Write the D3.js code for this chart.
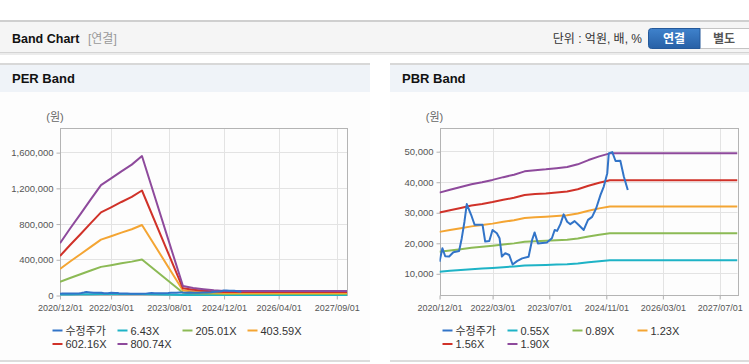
<!DOCTYPE html>
<html>
<head>
<meta charset="utf-8">
<script src="https://cdn.jsdelivr.net/npm/d3@7"></script>
<style>
  body { margin: 0; background: #fff; }
  svg { display: block; font-family: "Liberation Sans", Arial, "Noto Sans CJK KR", sans-serif; }
</style>
</head>
<body>
<svg id="band" width="749" height="364"></svg>
<script>
// ---- data ----
let priceDates = ['2020-12-01', '2020-12-26', '2021-01-19', '2021-02-22', '2021-03-30', '2021-05-18', '2021-06-10', '2021-07-03', '2021-07-23', '2021-08-30',
	'2021-09-28', '2021-12-05', '2021-12-28', '2022-02-01', '2022-03-01', '2022-04-07', '2022-04-30', '2022-05-20', '2022-06-18', '2022-07-22',
	'2022-08-20', '2022-09-27', '2022-11-10', '2023-01-04', '2023-02-03', '2023-02-25', '2023-03-25', '2023-06-10', '2023-07-23', '2023-08-16',
	'2023-09-06', '2023-10-04', '2023-11-01', '2023-12-01', '2023-12-28', '2024-02-03', '2024-03-09', '2024-04-21', '2024-05-28', '2024-07-02',
	'2024-08-06', '2024-09-12', '2024-10-10', '2024-11-09', '2024-11-22', '2024-12-22', '2025-01-19', '2025-03-01', '2025-03-31', '2025-05-04']
let priceValues = [13800, 18200, 15600, 15500, 16900, 17300, 21500, 26900, 32700, 29100,
	25900, 25900, 20400, 20600, 24200, 23100, 21500, 15500, 16600, 16000,
	12900, 14000, 14900, 15400, 20900, 23400, 19800, 20100, 21500, 24200,
	23900, 26100, 29300, 26900, 26100, 27100, 25800, 24200, 27500, 28500,
	31300, 35700, 38400, 42800, 49300, 49700, 46800, 46900, 41700, 37300]

let perDates = ['2020-12-01', '2021-03-01', '2021-06-01', '2021-09-01', '2021-12-01', '2022-03-01', '2022-06-01', '2022-09-01', '2022-12-01',
	'2023-12-01', '2024-03-01', '2024-06-01', '2024-09-01', '2024-12-01', '2027-12-01']
let perLabels = ['6.43X', '205.01X', '403.59X', '602.16X', '800.74X']
let per643 = [4660, 5980, 7270, 8590, 9880, 10480, 11120, 11720, 12490, 800, 630, 520, 430, 360, 360]
let per205 = [148490, 190740, 231700, 273950, 314910, 334110, 354600, 373800, 398380, 25600, 19970, 16640, 13570, 11520, 11520]
let per403 = [292330, 375500, 456140, 539300, 619950, 657750, 698070, 735870, 784260, 50400, 39310, 32760, 26710, 22680, 22680]
let per602 = [436170, 560250, 680570, 804650, 924970, 981370, 1041530, 1097930, 1170130, 75200, 58660, 48880, 39860, 33840, 33840]
let per800 = [580000, 745000, 905000, 1070000, 1230000, 1305000, 1385000, 1460000, 1556000, 100000, 78000, 65000, 53000, 45000, 45000]
let perTicks = ['2020-12-01', '2022-03-01', '2023-08-01', '2024-12-01', '2026-04-01', '2027-09-01']
let perYTicks = [0, 400000, 800000, 1200000, 1600000]

let pbrDates = ['2020-12-01', '2021-03-01', '2021-06-01', '2021-09-01', '2021-12-01', '2022-03-01', '2022-06-01', '2022-09-01', '2022-12-01',
	'2023-03-01', '2023-06-01', '2023-09-01', '2023-12-01', '2024-03-01', '2024-06-01', '2024-09-01', '2024-12-01', '2027-12-01']
let pbrLabels = ['0.55X', '0.89X', '1.23X', '1.56X', '1.90X']
let pbr055 = [10550, 10810, 11070, 11350, 11540, 11750, 12010, 12250, 12560, 12680, 12750, 12850, 12970, 13230, 13630, 13980, 14270, 14270]
let pbr089 = [17060, 17490, 17920, 18360, 18670, 19020, 19440, 19810, 20330, 20520, 20630, 20800, 20980, 21410, 22060, 22620, 23090, 23090]
let pbr123 = [23580, 24180, 24760, 25380, 25800, 26280, 26870, 27390, 28100, 28360, 28520, 28740, 29000, 29590, 30490, 31270, 31920, 31920]
let pbr156 = [29910, 30670, 31410, 32190, 32720, 33340, 34080, 34730, 35640, 35960, 36170, 36460, 36790, 37520, 38670, 39660, 40480, 40480]
let pbr190 = [36430, 37350, 38250, 39200, 39850, 40600, 41500, 42300, 43400, 43800, 44050, 44400, 44800, 45700, 47100, 48300, 49300, 49300]
let pbrTicks = ['2020-12-01', '2022-03-01', '2023-07-01', '2024-11-01', '2026-03-01', '2027-07-01']
let pbrYTicks = [10000, 20000, 30000, 40000, 50000]

let colors = ['#3274c8', '#1eb3c6', '#8cba55', '#f4a533', '#d03229', '#8e4a9c'] // price, then bands low -> high
// ---------------------------------------

let parse = d3.timeParse('%Y-%m-%d')
let svg = d3.select('#band')

// header bar
let bar = svg.append('g')
bar.append('rect').attr('x', 0).attr('y', 20).attr('width', 749).attr('height', 33).attr('fill', '#f5f5f5')
bar.append('rect').attr('x', 0).attr('y', 20).attr('width', 749).attr('height', 2).attr('fill', '#cfcfcf')
bar.append('rect').attr('x', 0).attr('y', 52).attr('width', 749).attr('height', 1).attr('fill', '#d4d4d4')
bar.append('rect').attr('x', 0).attr('y', 53).attr('width', 749).attr('height', 2).attr('fill', '#ececec')
bar.append('text').attr('x', 12).attr('y', 43).style('font-size', '12.5px').style('font-weight', 'bold').attr('fill', '#111').text('Band Chart')
bar.append('text').attr('x', 88).attr('y', 43).style('font-size', '12px').attr('fill', '#999').text('[연결]')
bar.append('text').attr('x', 642).attr('y', 43).attr('text-anchor', 'end').style('font-size', '12px').attr('fill', '#333').text('단위 : 억원, 배, %')

let defs = svg.append('defs')
let grad = defs.append('linearGradient').attr('id', 'btn').attr('x1', 0).attr('y1', 0).attr('x2', 0).attr('y2', 1)
grad.append('stop').attr('offset', 0).attr('stop-color', '#3f82cc')
grad.append('stop').attr('offset', 1).attr('stop-color', '#2760a6')
bar.append('rect').attr('x', 699).attr('y', 28.5).attr('width', 52).attr('height', 20).attr('fill', '#fff').attr('stroke', '#c4c4c4')
bar.append('path').attr('d', 'M651.5,28.5 H700 V48.5 H651.5 Q648.5,48.5 648.5,45.5 V31.5 Q648.5,28.5 651.5,28.5 Z')
	.attr('fill', 'url(#btn)').attr('stroke', '#25599a')
bar.append('text').attr('x', 674).attr('y', 43).attr('text-anchor', 'middle').style('font-size', '12px').style('font-weight', 'bold').attr('fill', '#fff').text('연결')
bar.append('text').attr('x', 724).attr('y', 43).attr('text-anchor', 'middle').style('font-size', '12px').style('font-weight', 'bold').attr('fill', '#555').text('별도')

let panels = [
	{ id: 'per', title: 'PER Band', left: 0, right: 370, x0: 60, x1: 347, ymax: 1870000, ymin: 0, dates: perDates, bands: [per643, per205, per403, per602, per800],
		labels: perLabels, ticks: perTicks, yticks: perYTicks, legendX: 52.5 },
	{ id: 'pbr', title: 'PBR Band', left: 390, right: 749, x0: 439.5, x1: 737.5, ymax: 57600, ymin: 2900, dates: pbrDates, bands: [pbr055, pbr089, pbr123, pbr156, pbr190],
		labels: pbrLabels, ticks: pbrTicks, yticks: pbrYTicks, legendX: 442.5 }
]

let plotTop = 128, plotBottom = 295

panels.forEach(p => {
	let g = svg.append('g').attr('class', p.id)
	let w = p.right - p.left

	// panel header
	g.append('rect').attr('x', p.left).attr('y', 64).attr('width', w).attr('height', 28).attr('fill', '#eff3f8')
	g.append('rect').attr('x', p.left).attr('y', 63).attr('width', w).attr('height', 2).attr('fill', '#d8d8d8')
	g.append('rect').attr('x', p.left).attr('y', 92).attr('width', w).attr('height', 268).attr('fill', '#fdfdfd')
	g.append('rect').attr('x', p.left).attr('y', 360).attr('width', w).attr('height', 2).attr('fill', '#dcdcdc')
	g.append('text').attr('x', p.left + 12).attr('y', 83).style('font-size', '13px').style('font-weight', 'bold').attr('fill', '#111').text(p.title)

	let x = d3.scaleTime().domain([parse('2020-12-01'), parse('2027-12-01')]).range([p.x0, p.x1])
	let y = d3.scaleLinear().domain([p.ymin, p.ymax]).range([plotBottom, plotTop])

	// grid
	g.append('g').selectAll('line').data(p.ticks.map(parse)).join('line')
		.attr('x1', d => Math.round(x(d)) + 0.5).attr('x2', d => Math.round(x(d)) + 0.5)
		.attr('y1', plotTop).attr('y2', plotBottom + 4).attr('stroke', '#e3e3e3')
	g.append('g').selectAll('line').data(p.yticks).join('line')
		.attr('x1', p.x0).attr('x2', p.x1)
		.attr('y1', d => Math.round(y(d)) + 0.5).attr('y2', d => Math.round(y(d)) + 0.5).attr('stroke', '#e3e3e3')

	// frame
	g.append('rect').attr('x', Math.round(p.x0) + 0.5).attr('y', plotTop + 0.5).attr('width', Math.round(p.x1 - p.x0)).attr('height', plotBottom - plotTop)
		.attr('fill', 'none').attr('stroke', '#b4b4b4')

	// axes
	let yAxis = g.append('g').attr('transform', 'translate(' + (Math.round(p.x0) + 0.5) + ',0.5)')
		.call(d3.axisLeft(y).tickValues(p.yticks).tickSize(4).tickPadding(3).tickFormat(d3.format(',')))
	yAxis.select('.domain').remove()
	yAxis.selectAll('line').attr('stroke', '#b4b4b4')
	yAxis.selectAll('text').style('font-size', '9.5px').attr('fill', '#555')
	yAxis.attr('font-family', null)

	let xAxis = g.append('g').attr('transform', 'translate(0,' + (plotBottom + 0.5) + ')')
		.call(d3.axisBottom(x).tickValues(p.ticks.map(parse)).tickSize(4).tickPadding(5).tickFormat(d3.timeFormat('%Y/%m/%d')))
	xAxis.select('.domain').remove()
	xAxis.selectAll('line').attr('stroke', '#b4b4b4')
	xAxis.selectAll('text').style('font-size', '9px').attr('fill', '#555')
	xAxis.attr('font-family', null)

	g.append('text').attr('x', p.x0 - 5).attr('y', 121).attr('text-anchor', 'middle').style('font-size', '11px').attr('fill', '#666').text('(원)')

	// lines
	let clipId = 'clip-' + p.id
	defs.append('clipPath').attr('id', clipId).append('rect').attr('x', p.x0).attr('y', plotTop).attr('width', p.x1 - p.x0).attr('height', plotBottom - plotTop + 1)
	let line = d3.line().x(d => x(d[0])).y(d => y(d[1]))
	let lines = g.append('g').attr('clip-path', 'url(#' + clipId + ')')
	p.bands.forEach((vals, i) => {
		lines.append('path').attr('fill', 'none').attr('stroke', colors[i + 1]).attr('stroke-width', 2).attr('stroke-linejoin', 'round')
			.attr('d', line(vals.map((v, j) => [parse(p.dates[j]), v])))
	})
	lines.append('path').attr('fill', 'none').attr('stroke', colors[0]).attr('stroke-width', 2).attr('stroke-linejoin', 'round')
		.attr('d', line(priceValues.map((v, j) => [parse(priceDates[j]), v])))

	// legend
	let names = ['수정주가'].concat(p.labels)
	let items = g.append('g').selectAll('g').data(names).join('g')
		.attr('transform', (d, i) => 'translate(' + (p.legendX + 65 * (i % 4)) + ',' + (330.5 + 13.5 * ~~(i / 4)) + ')')
	items.append('line').attr('x1', 0).attr('x2', 10).attr('y1', 0).attr('y2', 0).attr('stroke', (d, i) => colors[i]).attr('stroke-width', 2)
	items.append('text').attr('x', 13).attr('y', 4).style('font-size', '11px').attr('fill', '#333').text(d => d)
})
</script>
</body>
</html>
